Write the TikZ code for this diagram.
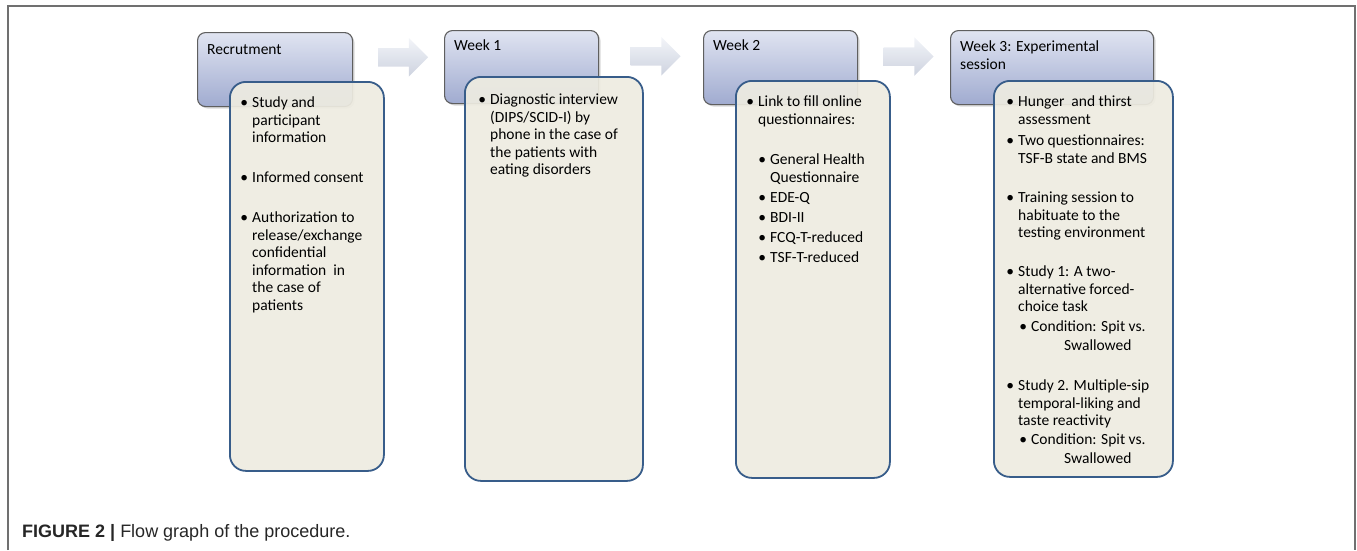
\documentclass[tikz,border=0pt]{standalone}
\usepackage{fontspec}
\setmainfont{Carlito}
\newfontfamily\capfont{Liberation Sans}
\usetikzlibrary{calc,shapes.arrows,shadows}
\definecolor{hdrtop}{RGB}{224,228,241}
\definecolor{hdrbot}{RGB}{160,171,208}
\definecolor{hdrline}{RGB}{95,95,95}
\definecolor{bodyfill}{RGB}{238,236,225}
\definecolor{bodyline}{RGB}{56,93,138}
\definecolor{arwmid}{RGB}{214,220,234}
\definecolor{framegray}{RGB}{112,112,112}
\newcommand{\itmdot}{\llap{\textbullet\hspace{4pt}}}

\begin{document}
\begin{tikzpicture}[x=1pt,y=-1pt,
  hdr/.style={draw=hdrline, line width=1.1pt, rounded corners=8pt, anchor=north west,
    top color=hdrtop, bottom color=hdrbot, inner sep=0,
    drop shadow={shadow xshift=2pt, shadow yshift=-2pt, opacity=0.3}},
  hdrtxt/.style={anchor=north west, align=left, inner sep=0, font=\fontsize{15.5}{17.5}\selectfont},
  body/.style={draw=bodyline, line width=1.8pt, rounded corners=16pt, anchor=north west,
    fill=bodyfill, fill opacity=0.92, inner sep=0},
  itm/.style={anchor=north west, align=left, inner sep=0, font=\fontsize{15.5}{17.5}\selectfont},
  arw/.style={single arrow, single arrow head extend=10pt, inner sep=0, inner ysep=9pt,
    minimum height=50pt, minimum width=0pt, shape border rotate=0,
    top color=white!70!arwmid, bottom color=arwmid!90!gray},
  ]
\useasboundingbox (0,0) rectangle (1357,550);
\draw[framegray, line width=1.5pt] (8,550) -- (8,6) -- (1355,6) -- (1355,550);

\node[hdr, minimum width=155, minimum height=74] (rec) at (197,32) {};
\node[hdr, minimum width=154, minimum height=73] (wk1) at (444,30) {};
\node[hdr, minimum width=154, minimum height=74] (wk2) at (703,30) {};
\node[hdr, minimum width=203, minimum height=74] (wk3) at (950,30) {};

\node[hdrtxt] (recl) at ($(rec.north west)+(10,12)$) {Recrutment};
\node[hdrtxt] (wk1l) at ($(wk1.north west)+(10,10)$) {Week 1};
\node[hdrtxt] (wk2l) at ($(wk2.north west)+(10,10)$) {Week 2};
\node[hdrtxt] (wk3l) at ($(wk3.north west)+(10,11)$) {Week 3: Experimental\\session};

\node[arw] (a1) at ($(rec.east)!0.5!(wk1.west)+(0,-11)$) {};
\node[arw] (a2) at ($(wk1.east)!0.5!(wk2.west)+(0,-11)$) {};
\node[arw] (a3) at ($(wk2.east)!0.5!(wk3.west)+(0,-11)$) {};

\node[body, minimum width=154, minimum height=389] (b1) at (229,81) {};
\node[body, minimum width=178, minimum height=404] (b2) at (464,76) {};
\node[body, minimum width=154, minimum height=397] (b3) at (735,80) {};
\node[body, minimum width=179, minimum height=396] (b4) at (993,80) {};

% recruitment
\node[itm] (r1) at (252,97) {\itmdot Study and\\participant\\information};
\node[itm] (r2) at (252,172) {\itmdot Informed consent};
\node[itm] (r3) at (252,212) {\itmdot Authorization to\\release/exchange\\confidential\\information~ in\\the case of\\patients};

% week 1
\node[itm] (w1a) at (490,94) {\itmdot Diagnostic interview\\(DIPS/SCID-I) by\\phone in the case of\\the patients with\\eating disorders};

% week 2
\node[itm] (w2a) at (758,96) {\itmdot Link to fill online\\questionnaires:};
\node[itm] (w2b) at (770,154) {\itmdot General Health\\Questionnaire};
\node[itm] (w2c) at (770,192) {\itmdot EDE-Q};
\node[itm] (w2d) at (770,212) {\itmdot BDI-II};
\node[itm] (w2e) at (770,232) {\itmdot FCQ-T-reduced};
\node[itm] (w2f) at (770,252) {\itmdot TSF-T-reduced};

% week 3
\node[itm] (w3a) at (1018,96) {\itmdot Hunger~ and thirst\\assessment};
\node[itm] (w3b) at (1018,135) {\itmdot Two questionnaires:\\TSF-B state and BMS};
\node[itm] (w3c) at (1018,192) {\itmdot Training session to\\habituate to the\\testing environment};
\node[itm] (w3d) at (1018,266) {\itmdot Study 1: A two-\\alternative forced-\\choice task};
\node[itm] (w3e) at (1031,321) {\itmdot Condition: Spit vs.\\[1.5pt]\hspace*{33pt}Swallowed};
\node[itm] (w3f) at (1018,380) {\itmdot Study 2. Multiple-sip\\temporal-liking and\\taste reactivity};
\node[itm] (w3g) at (1031,434) {\itmdot Condition: Spit vs.\\[1.5pt]\hspace*{33pt}Swallowed};

\node[anchor=base west, inner sep=0, text=black!85, font=\capfont\fontsize{18}{20}\selectfont] (cap) at (22,537)
  {\textbf{FIGURE 2 |} Flow graph of the procedure.};
\end{tikzpicture}
\end{document}
